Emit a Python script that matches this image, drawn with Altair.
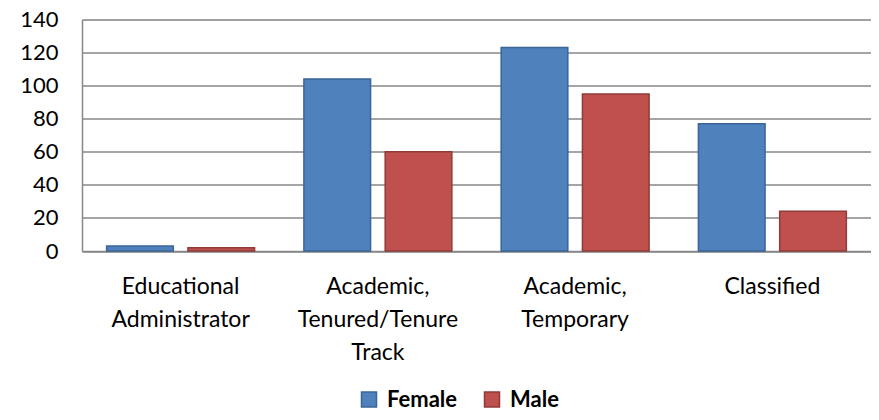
import altair as alt
import pandas as pd

categories = ["Educational Administrator", "Academic, Tenured/Tenure Track",
              "Academic, Temporary", "Classified"]
category_lines = [["Educational", "Administrator"],
                  ["Academic,", "Tenured/Tenure", "Track"],
                  ["Academic,", "Temporary"],
                  ["Classified"]]
series = ["Female", "Male"]
female = [3, 104, 123, 77]
male = [2, 60, 95, 24]
y_ticks = [0, 20, 40, 60, 80, 100, 120, 140]

rows = []
for c, f, m in zip(categories, female, male):
    rows.append({"Category": c, "Gender": "Female", "Count": f})
    rows.append({"Category": c, "Gender": "Male", "Count": m})
df = pd.DataFrame(rows)

# build label expression mapping category -> list of lines
expr = "datum.label"
for c, lines in reversed(list(zip(categories, category_lines))):
    arr = "[" + ",".join("'" + l + "'" for l in lines) + "]"
    expr = f"datum.label == '{c}' ? {arr} : ({expr})"

GRID = "#878787"
FONT = "Lato"

legend = alt.Legend(
    title=None, orient="none", legendX=276, legendY=369, direction="horizontal",
    symbolType="square", symbolSize=225, symbolStrokeWidth=1.5,
    labelFont=FONT, labelFontSize=22, labelFontWeight="bold", labelColor="black",
    columnPadding=23, labelOffset=7, padding=0,
)

chart = alt.Chart(df).mark_bar(strokeWidth=1.5).encode(
    x=alt.X("Category:N", sort=categories,
            scale=alt.Scale(paddingInner=0.25, paddingOuter=0.125),
            axis=alt.Axis(title=None, labelAngle=0, labelExpr=expr, labelFont=FONT,
                          labelFontSize=23, labelColor="black", labelPadding=24,
                          labelLineHeight=33, ticks=False, domainColor=GRID,
                          domainWidth=1.5, grid=False)),
    xOffset=alt.XOffset("Gender:N", sort=series, scale=alt.Scale(paddingInner=0.18)),
    y=alt.Y("Count:Q", scale=alt.Scale(domain=[0, 140]),
            axis=alt.Axis(values=y_ticks, title=None, labelFont=FONT, labelFontSize=22,
                          labelColor="black", labelPadding=24, ticks=False,
                          domainColor=GRID, domainWidth=1.5, gridColor=GRID,
                          gridWidth=1.5)),
    fill=alt.Fill("Gender:N", sort=series,
                  scale=alt.Scale(domain=series, range=["#4F81BD", "#C0504D"]),
                  legend=legend),
    stroke=alt.Stroke("Gender:N", sort=series,
                      scale=alt.Scale(domain=series, range=["#3A6597", "#8E3B39"]),
                      legend=legend),
).properties(
    width=789, height=231.5,
    padding={"left": 74, "top": 11.5, "right": 0, "bottom": 161},
    autosize=alt.AutoSizeParams(type="none"),
).configure_view(
    fill="#E6E6E6", stroke=None
).configure(background="white")

chart.save("out.html", embed_options={"renderer": "svg", "actions": False})
